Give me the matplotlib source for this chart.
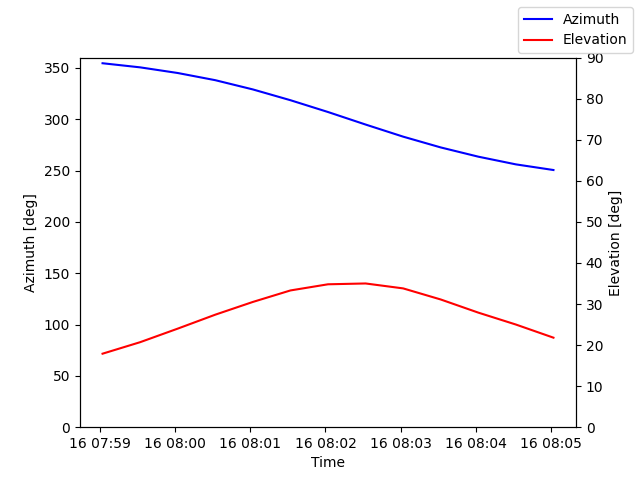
import datetime

import matplotlib
matplotlib.use("Agg")
import matplotlib.pyplot as plt
import matplotlib.dates as mdates

# pass samples, one every 30 s
START_TIME = datetime.datetime(2021, 3, 16, 7, 59, 2)
STEP_SECONDS = 30

azimuth = [354.5, 350.5, 345.0, 338.0, 329.0, 318.5, 307.0,
           294.8, 283.0, 272.5, 263.5, 256.0, 250.5]
elevation = [17.9, 20.7, 24.0, 27.4, 30.5, 33.3, 34.8,
             35.0, 33.8, 31.1, 27.9, 25.0, 21.8]

times = [START_TIME + datetime.timedelta(seconds=STEP_SECONDS * i)
         for i in range(len(azimuth))]

fig, ax1 = plt.subplots(figsize=(6.4, 4.8), dpi=100)
ax2 = ax1.twinx()

ax1.plot(times, azimuth, 'b', label='Azimuth')
ax2.plot(times, elevation, 'r', label='Elevation')

ax1.set_ylim(0, 360)
ax2.set_ylim(0, 90)
ax1.set_xlabel('Time')
ax1.set_ylabel('Azimuth [deg]')
ax2.set_ylabel('Elevation [deg]')

ax1.xaxis.set_major_locator(mdates.MinuteLocator())
ax1.xaxis.set_major_formatter(mdates.DateFormatter('%d %H:%M'))

fig.legend()

fig.savefig('out.png')
